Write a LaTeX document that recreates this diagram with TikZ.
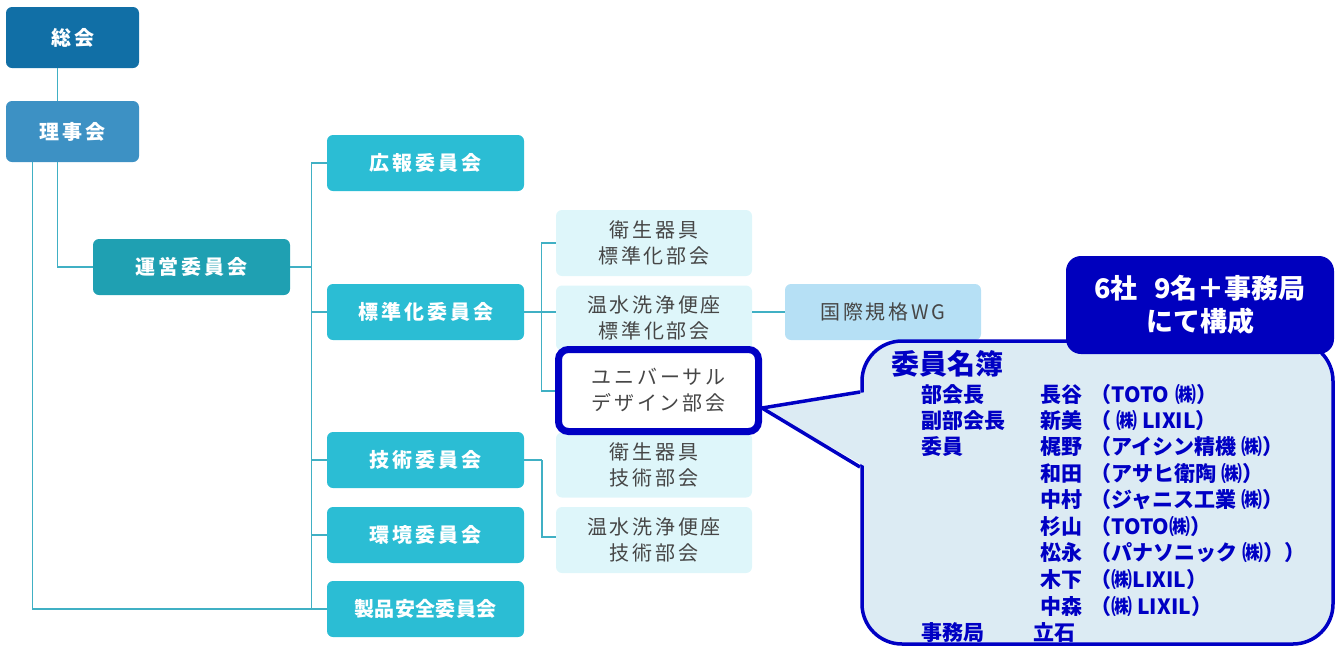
\documentclass[tikz,border=0pt]{standalone}
\usepackage{fontspec}
\usetikzlibrary{calc}
\newfontfamily\jp{Noto Sans CJK JP}
\newfontfamily\jpls[LetterSpace=15]{Noto Sans CJK JP}
\newfontfamily\jplsn[LetterSpace=2]{Noto Sans CJK JP}
\newfontfamily\jplt[LetterSpace=14]{Noto Sans CJK JP}
\definecolor{soukaic}{RGB}{17,111,166}
\definecolor{rijic}{RGB}{61,145,196}
\definecolor{ueic}{RGB}{31,160,178}
\definecolor{iinc}{RGB}{43,189,212}
\definecolor{lightc}{RGB}{222,246,250}
\definecolor{wgc}{RGB}{182,224,245}
\definecolor{linec}{RGB}{64,176,196}
\definecolor{calloutc}{RGB}{220,235,243}
\definecolor{navyc}{RGB}{0,0,196}
\definecolor{darkboxc}{RGB}{0,0,190}
\definecolor{greytext}{RGB}{70,70,70}
\tikzset{
  orgbox/.style={rounded corners=6pt, inner sep=0pt, text=white,
    font=\jpls\bfseries\fontsize{20}{22}\selectfont, minimum width=197pt, minimum height=56pt},
  lightbox/.style={rounded corners=6pt, inner sep=0pt, fill=lightc, text=greytext, align=center,
    font=\jplt\fontsize{20}{26}\selectfont, minimum width=196pt, minimum height=65pt},
  conn/.style={draw=linec, line width=1.3pt},
  ctext/.style={anchor=west, inner sep=0pt, text=navyc, font=\jp\bfseries\fontsize{21}{24}\selectfont},
}
\begin{document}
\begin{tikzpicture}[x=1pt,y=-1pt]
\useasboundingbox (0,0) rectangle (1339,646);
\coordinate (bus) at (312,267);
\coordinate (br1) at (542,312);
\coordinate (br2) at (542,460);
% boxes
\node[orgbox, fill=soukaic, minimum width=133pt, minimum height=61pt] (soukai) at (72.5,37.5) {総会};
\node[orgbox, fill=rijic, minimum width=133pt, minimum height=61pt] (riji) at (72.5,131.5) {理事会};
\node[orgbox, fill=ueic] (unei) at (191.5,267) {運営委員会};
\node[orgbox, fill=iinc] (kouhou) at (425.5,163) {広報委員会};
\node[orgbox, fill=iinc] (hyoujun) at (425.5,312) {標準化委員会};
\node[orgbox, fill=iinc] (gijutsu) at (425.5,460) {技術委員会};
\node[orgbox, fill=iinc] (kankyou) at (425.5,535) {環境委員会};
\node[orgbox, fill=iinc, font=\jplsn\bfseries\fontsize{20}{22}\selectfont] (seihin) at (425.5,609) {製品安全委員会};
\node[lightbox, minimum height=66pt] (eisei1) at (654,243) {衛生器具\\標準化部会};
\node[lightbox] (onsui1) at (654,318) {温水洗浄便座\\標準化部会};
\node[lightbox] (eisei2) at (654,465) {衛生器具\\技術部会};
\node[lightbox, minimum height=66pt] (onsui2) at (654,540) {温水洗浄便座\\技術部会};
\node[rounded corners=6pt, fill=wgc, minimum width=196pt, minimum height=56pt, text=greytext,
  font=\jplt\fontsize{20}{22}\selectfont] (wg) at (883,312) {国際規格WG};
% lines
\draw[conn] ($(soukai.south west)+(52,0)$) -- ($(riji.north west)+(52,0)$);
\draw[conn] ($(riji.south west)+(52,0)$) |- (unei.west);
\draw[conn] ($(riji.south west)+(27,0)$) |- (seihin.west);
\draw[conn] (unei.east) -- (bus);
\draw[conn] (kouhou.west) -- ++(-15,0) |- (seihin.west);
\draw[conn] (hyoujun.west) -- ++(-15,0);
\draw[conn] (gijutsu.west) -- ++(-15,0);
\draw[conn] (kankyou.west) -- ++(-15,0);
\draw[conn] (hyoujun.east) -- (br1);
\draw[conn] (eisei1.west) -- ++(-14,0) |- (556,391) coordinate (unijoin);
\draw[conn] (onsui1.west |- br1) -- (br1);
\draw[conn] (gijutsu.east) -- (br2);
\draw[conn] (br2) |- (onsui2.west |- 0,537);
\draw[conn] (onsui1.east |- 0,312) -- (wg.west);
% highlighted box
\node[rounded corners=10pt, draw=navyc, line width=7pt, fill=white, minimum width=200pt, minimum height=82pt,
  inner sep=0pt, align=center, text=greytext, font=\jplt\fontsize{20}{26}\selectfont] (univ) at (658.5,390.5)
  {ユニバーサル\\デザイン部会};
% callout
\draw[navyc, line width=3.5pt, fill=calloutc, rounded corners=40pt] (862,341) rectangle (1333,644);
\fill[calloutc] (763,408) -- (866,392) -- (866,467) -- cycle;
\draw[navyc, line width=3.5pt, line join=miter] (860,392) -- (univ.east |- 0,408) -- (860,467);
\node[fill=darkboxc, rounded corners=15pt, minimum width=268pt, minimum height=98pt, inner sep=0pt,
  text=white, align=center, font=\jp\bfseries\fontsize{27}{33}\selectfont] (summary) at (1200,305)
  {6社\hspace{0.6em}9名＋事務局\\にて構成};
\node[ctext, font=\jp\bfseries\fontsize{28}{30}\selectfont] (meibo) at (891,364) {委員名簿};
\node[ctext] (t1) at (921,395) {部会長};
\node[ctext] (t2) at (921,421) {副部会長};
\node[ctext] (t3) at (921,447) {委員};
\node[ctext] (t4) at (921,633) {事務局};
\node[ctext] (n1) at (1040,395) {長谷\hspace{0.4em}（TOTO\hspace{0.3em}㈱）};
\node[ctext] (n2) at (1040,421) {新美\hspace{0.4em}（ ㈱ LIXIL）};
\node[ctext] (n3) at (1040,447) {梶野\hspace{0.4em}（アイシン精機 ㈱）};
\node[ctext] (n4) at (1040,474) {和田\hspace{0.4em}（アサヒ衛陶 ㈱）};
\node[ctext] (n5) at (1040,500) {中村\hspace{0.4em}（ジャニス工業 ㈱）};
\node[ctext] (n6) at (1040,527) {杉山\hspace{0.4em}（TOTO㈱）};
\node[ctext] (n7) at (1040,553) {松永\hspace{0.4em}（パナソニック ㈱））};
\node[ctext] (n8) at (1040,580) {木下\hspace{0.4em}（㈱LIXIL）};
\node[ctext] (n9) at (1040,607) {中森\hspace{0.4em}（㈱ LIXIL）};
\node[ctext] (n10) at (1033,633) {立石};
\end{tikzpicture}
\end{document}
